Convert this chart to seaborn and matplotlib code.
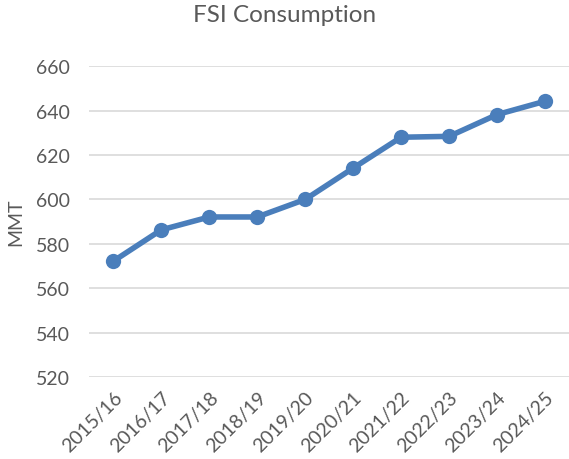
import pandas as pd
import seaborn as sns
import matplotlib.pyplot as plt

years = ['2015/16', '2016/17', '2017/18', '2018/19', '2019/20',
         '2020/21', '2021/22', '2022/23', '2023/24', '2024/25']
consumption = [572.2, 586.3, 592.1, 592.1, 600.0, 614.1, 628.0, 628.4, 638.2, 644.2]

df = pd.DataFrame({'year': years, 'mmt': consumption})

sns.set_style('white')
plt.rcParams['font.family'] = ['Lato', 'DejaVu Sans']
grey = '#595959'

fig = plt.figure(figsize=(5.69, 4.6), dpi=100)
ax = fig.add_axes([0.157, 0.178, 0.843, 0.676])

sns.lineplot(data=df, x='year', y='mmt', ax=ax, color='#4a7ebb', linewidth=4,
             marker='o', markersize=11, markeredgewidth=0, sort=False)

ax.set_ylim(520, 660)
ax.set_yticks(range(520, 661, 20))
ax.set_xlim(-0.5, 9.5)
ax.grid(axis='y', color='#d9d9d9', linewidth=1.2)
ax.set_axisbelow(True)
for s in ax.spines.values():
    s.set_visible(False)
ax.tick_params(axis='both', length=0, labelsize=14, colors=grey)
ax.tick_params(axis='y', pad=14)
ax.tick_params(axis='x', pad=8)
plt.setp(ax.get_xticklabels(), rotation=45, ha='right', rotation_mode='anchor')
ax.set_xlabel('')
ax.set_ylabel('MMT', fontsize=14, color=grey, labelpad=8)
fig.suptitle('FSI Consumption', fontsize=17.5, color=grey, y=0.99)

fig.savefig('out.png', dpi=100)
